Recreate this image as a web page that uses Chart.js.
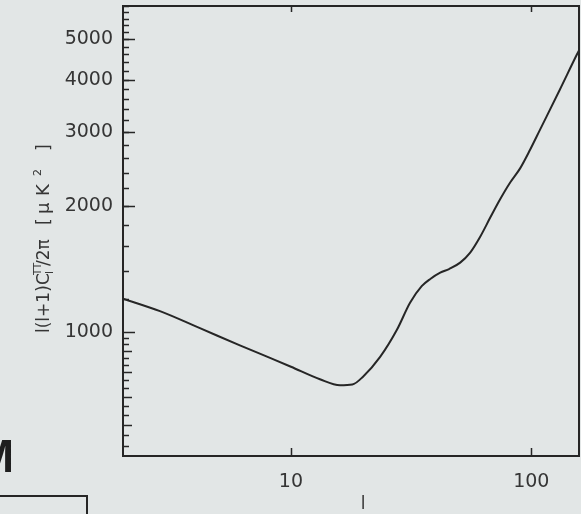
<!DOCTYPE html>
<html>
<head>
<meta charset="utf-8">
<script src="https://cdn.jsdelivr.net/npm/chart.js"></script>
<style>
  html, body { margin: 0; padding: 0; background: #e2e6e6; }
  canvas { display: block; }
</style>
</head>
<body>
<canvas id="cl" width="581" height="514"></canvas>
<script>
// multipole l and l(l+1)C_l/2pi
const ell = [2, 2.85, 4.18, 6.13, 8.18, 10, 13.2, 16, 18, 19.9, 23.5, 27.6, 31.3, 35, 38, 41.8, 45.5, 50.6, 55.7, 61.3, 67.5, 74.1, 81.7, 90, 99, 108.8, 131.6, 155, 158];
const power = [1200, 1120, 1020, 928, 866, 825, 770, 745, 748, 780, 871, 1011, 1173, 1285, 1337, 1384, 1412, 1463, 1546, 1687, 1874, 2070, 2273, 2460, 2725, 3040, 3790, 4600, 4700];

const xTickLabels = [10, 100];
const yTickLabels = [1000, 2000, 3000, 4000, 5000];

const ink = "#262626";
const textInk = "#353535";

// y title pieces: text, offset along the axis, baseline shift, font size
const yTitleParts = [
  ["l(l+1)", 0, 0, 17],
  ["C", 48, 0, 17],
  ["l", 59, 4, 11],
  ["TT", 58, -8, 10],
  ["/2π", 67, 0, 17],
  ["[", 108, 0, 17],
  ["μ", 119, 0, 18],
  ["K", 137, 0, 18],
  ["2", 157, -8, 11],
  ["]", 182, 0, 17],
];

// frame, inward ticks, titles and the bits of slide around the plot
const decorations = {
  id: "decorations",
  afterDraw(chart) {
    const ctx = chart.ctx;
    const area = chart.chartArea;
    const xs = chart.scales.x;
    const ys = chart.scales.y;
    ctx.save();
    ctx.strokeStyle = ink;

    // ticks on the left axis
    ctx.lineWidth = 1.5;
    const minor = [];
    for (let v = 1000 - 100 / 3; v > ys.min; v -= 100 / 3) minor.push(v);
    for (let v = 1200; v <= ys.max; v += 200) minor.push(v);
    minor.forEach((v) => {
      const y = Math.round(ys.getPixelForValue(v)) + 0.5;
      const hundred = Math.abs(v / 100 - Math.round(v / 100)) < 0.01 && v < 1000;
      const len = hundred ? 9 : 6;
      ctx.beginPath();
      ctx.moveTo(area.left, y);
      ctx.lineTo(area.left + len, y);
      ctx.stroke();
    });
    yTickLabels.forEach((v) => {
      const y = Math.round(ys.getPixelForValue(v)) + 0.5;
      ctx.beginPath();
      ctx.moveTo(area.left, y);
      ctx.lineTo(area.left + 12, y);
      ctx.stroke();
    });

    // ticks on bottom and top
    xTickLabels.forEach((v) => {
      const x = Math.round(xs.getPixelForValue(v)) + 0.5;
      ctx.beginPath();
      ctx.moveTo(x, area.bottom);
      ctx.lineTo(x, area.bottom - 8);
      ctx.moveTo(x, area.top);
      ctx.lineTo(x, area.top + 6);
      ctx.stroke();
    });

    // frame
    ctx.lineWidth = 2;
    ctx.strokeRect(area.left, area.top, area.right - area.left, area.bottom - area.top);

    // x title
    ctx.fillStyle = textInk;
    ctx.font = "17px 'DejaVu Sans'";
    ctx.textAlign = "center";
    ctx.textBaseline = "middle";
    ctx.fillText("l", 363, 505);

    // y title, reading upwards
    ctx.save();
    ctx.translate(49, 333);
    ctx.rotate(-Math.PI / 2);
    ctx.textAlign = "left";
    ctx.textBaseline = "alphabetic";
    yTitleParts.forEach(([txt, u, dv, size]) => {
      ctx.font = size + "px 'DejaVu Sans'";
      ctx.fillText(txt, u, dv);
    });
    ctx.restore();

    // slide remnants at the bottom left
    ctx.fillStyle = "#1e1e1e";
    ctx.font = "bold 46px 'Liberation Sans'";
    ctx.textAlign = "right";
    ctx.textBaseline = "alphabetic";
    ctx.fillText("M", 14, 472);
    ctx.lineWidth = 2;
    ctx.beginPath();
    ctx.moveTo(0, 496);
    ctx.lineTo(87, 496);
    ctx.lineTo(87, 514);
    ctx.stroke();

    ctx.restore();
  },
};

new Chart(document.getElementById("cl"), {
  type: "line",
  data: {
    datasets: [
      {
        data: ell.map((l, i) => ({ x: l, y: power[i] })),
        borderColor: ink,
        borderWidth: 2,
        pointRadius: 0,
        fill: false,
        cubicInterpolationMode: "monotone",
      },
    ],
  },
  options: {
    responsive: false,
    animation: false,
    layout: { padding: { top: 6, right: 2, left: 0, bottom: 0 } },
    plugins: { legend: { display: false }, tooltip: { enabled: false } },
    scales: {
      x: {
        type: "logarithmic",
        min: 2,
        max: 158,
        afterFit: (s) => {
          s.height = 58;
          s.paddingLeft = 0;
          s.paddingRight = 0;
        },
        afterBuildTicks: (s) => { s.ticks = xTickLabels.map((v) => ({ value: v })); },
        grid: { display: false, drawTicks: false },
        border: { display: false },
        ticks: {
          callback: (v) => String(v),
          color: textInk,
          font: { family: "DejaVu Sans", size: 19 },
          padding: 15,
          maxRotation: 0,
        },
      },
      y: {
        type: "logarithmic",
        min: 505,
        max: 6000,
        afterFit: (s) => {
          s.width = 123;
          s.paddingTop = 0;
          s.paddingBottom = 0;
        },
        afterBuildTicks: (s) => { s.ticks = yTickLabels.map((v) => ({ value: v })); },
        grid: { display: false, drawTicks: false },
        border: { display: false },
        ticks: {
          callback: (v) => String(v),
          color: textInk,
          font: { family: "DejaVu Sans", size: 19 },
          padding: 10,
        },
      },
    },
  },
  plugins: [decorations],
});
</script>
</body>
</html>
